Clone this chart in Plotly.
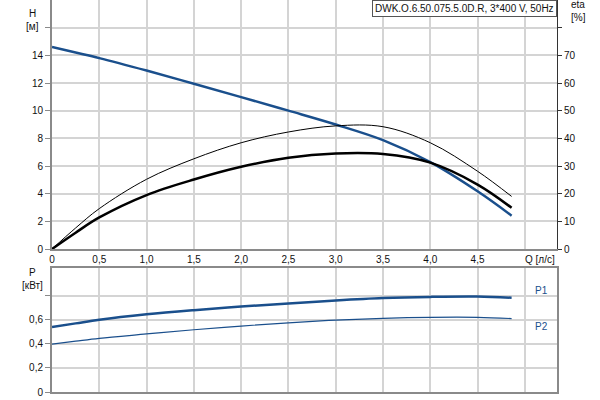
import plotly.graph_objects as go

# Data
q = [0.0, 0.25, 0.5, 1.0, 1.5, 2.0, 2.5, 3.0, 3.5, 4.0, 4.5, 4.86]
head = [14.6, 14.2, 13.8, 12.9, 11.95, 10.98, 10.0, 9.0, 7.87, 6.28, 4.17, 2.41]
eta_thin = [0, 7.6, 14.6, 25.2, 32.6, 38.4, 42.3, 44.5, 44.2, 38.4, 28.1, 19.0]
eta_thick = [0, 5.9, 11.4, 19.5, 25.1, 29.7, 33.0, 34.5, 34.3, 31.2, 23.3, 14.9]
p1 = [0.54, 0.57, 0.60, 0.645, 0.68, 0.71, 0.735, 0.76, 0.78, 0.79, 0.793, 0.783]
p2 = [0.397, 0.422, 0.446, 0.482, 0.517, 0.548, 0.575, 0.597, 0.612, 0.62, 0.62, 0.61]

x_ticks = [0, 0.5, 1.0, 1.5, 2.0, 2.5, 3.0, 3.5, 4.0, 4.5, 5.0]
x_text = ["0", "0,5", "1,0", "1,5", "2,0", "2,5", "3,0", "3,5", "4,0", "4,5", ""]
h_ticks = [0, 2, 4, 6, 8, 10, 12, 14, 16]
h_text = ["0", "2", "4", "6", "8", "10", "12", "14", ""]
eta_ticks = [0, 10, 20, 30, 40, 50, 60, 70, 80]
eta_text = ["0", "10", "20", "30", "40", "50", "60", "70", ""]
p_ticks = [0, 0.2, 0.4, 0.6, 0.8]
p_text = ["0", "0,2", "0,4", "0,6", ""]

title_text = "DWK.O.6.50.075.5.0D.R, 3*400 V, 50Hz"

BLUE = "#1a4f8c"
GRID = "#d4d4d4"
AX = "#8a8a8a"
FONT = dict(family="Liberation Sans, Arial, sans-serif", size=10, color="#111")

L, R, T, B = 52, 43, 0, 8
W, H = 600, 400
pw, ph = W - L - R, H - T - B


def px(xp):
    return (xp - L) / pw


def py(yp):
    return (H - B - yp) / ph


fig = go.Figure()
fig.add_trace(go.Scatter(x=q, y=head, mode="lines", line=dict(color=BLUE, width=2.5, shape="spline"),
                         xaxis="x", yaxis="y", showlegend=False))
fig.add_trace(go.Scatter(x=q, y=eta_thin, mode="lines", line=dict(color="#000", width=1, shape="spline"),
                         xaxis="x", yaxis="y2", showlegend=False))
fig.add_trace(go.Scatter(x=q, y=eta_thick, mode="lines", line=dict(color="#000", width=2.5, shape="spline"),
                         xaxis="x", yaxis="y2", showlegend=False))
fig.add_trace(go.Scatter(x=q, y=p1, mode="lines", line=dict(color=BLUE, width=2.5, shape="spline"),
                         xaxis="x2", yaxis="y3", showlegend=False))
fig.add_trace(go.Scatter(x=q, y=p2, mode="lines", line=dict(color=BLUE, width=1.2, shape="spline"),
                         xaxis="x2", yaxis="y3", showlegend=False))

top_dom = [py(249), 1.0]
bot_dom = [0.0, py(268)]
xr = [0, 5.34]

fig.update_layout(
    width=W, height=H, margin=dict(l=L, r=R, t=T, b=B),
    paper_bgcolor="white", plot_bgcolor="white", font=FONT,
    xaxis=dict(domain=[0, 1], range=xr, anchor="y", tickvals=x_ticks, ticktext=x_text,
               showgrid=True, gridcolor=GRID, gridwidth=1.5, showline=True, linecolor=AX, linewidth=2,
               zeroline=False, ticks="", tickfont=FONT),
    yaxis=dict(domain=top_dom, range=[0, 18], anchor="x", tickvals=h_ticks, ticktext=h_text,
               showgrid=True, gridcolor=GRID, gridwidth=1.5, showline=True, linecolor=AX, linewidth=2,
               zeroline=False, ticks="outside", ticklen=5, tickcolor=AX, tickfont=FONT),
    yaxis2=dict(range=[0, 90], overlaying="y", side="right", anchor="x", tickvals=eta_ticks,
                ticktext=eta_text, showgrid=False, showline=True, linecolor="#333", linewidth=1,
                zeroline=False, ticks="outside", ticklen=4, tickcolor="#333", tickfont=FONT),
    xaxis2=dict(domain=[0, 1], range=xr, anchor="y3", tickvals=x_ticks, showticklabels=False,
                showgrid=True, gridcolor=GRID, gridwidth=1.5, showline=True, linecolor=AX, linewidth=2,
                mirror=True, zeroline=False, ticks=""),
    yaxis3=dict(domain=bot_dom, range=[0, 1.03], anchor="x2", tickvals=p_ticks, ticktext=p_text,
                showgrid=True, gridcolor=GRID, gridwidth=1.5, showline=True, linecolor=AX, linewidth=2,
                mirror=True, zeroline=False, ticks="outside", ticklen=5, tickcolor=AX, tickfont=FONT),
)

ann = [
    dict(text="H", x=px(32), y=py(14)),
    dict(text="[м]", x=px(32), y=py(27)),
    dict(text="eta", x=px(578), y=py(5)),
    dict(text="[%]", x=px(578), y=py(17)),
    dict(text="P", x=px(32), y=py(272)),
    dict(text="[кВт]", x=px(32), y=py(285)),
    dict(text="P1", x=px(541), y=py(290), font=dict(family=FONT["family"], size=10, color=BLUE)),
    dict(text="P2", x=px(541), y=py(326), font=dict(family=FONT["family"], size=10, color=BLUE)),
]
for a in ann:
    fig.add_annotation(xref="paper", yref="paper", showarrow=False, xanchor="center", yanchor="middle",
                       font=a.get("font", FONT), text=a["text"], x=a["x"], y=a["y"])
fig.add_annotation(xref="paper", yref="paper", showarrow=False, xanchor="left", yanchor="middle",
                   text="Q [л/с]", x=px(523), y=py(259), font=FONT)
fig.add_annotation(xref="paper", yref="paper", showarrow=False, xanchor="right", yanchor="top",
                   text=title_text, x=1.0, y=1.0, font=FONT, bgcolor="white",
                   bordercolor="#555", borderwidth=1, borderpad=2)

fig.write_html("out.html", config={"displayModeBar": False},
               post_script="document.body.style.margin='0';document.body.style.overflow='hidden';")
